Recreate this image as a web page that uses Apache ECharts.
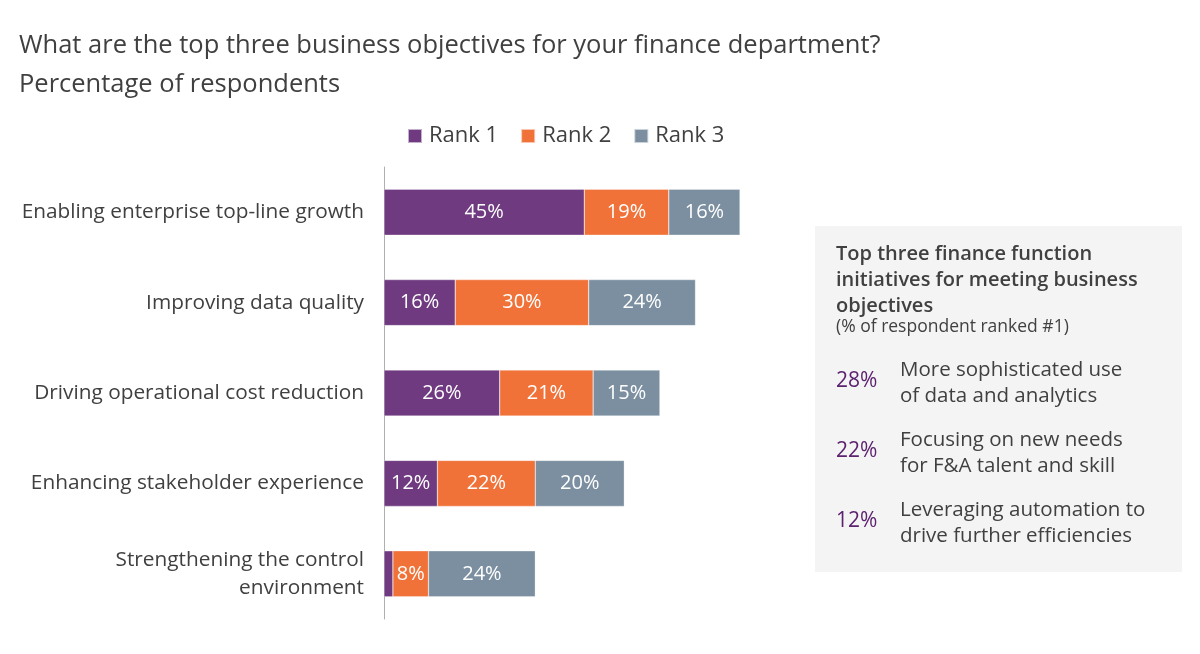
<!DOCTYPE html>
<html>
<head>
<meta charset="utf-8">
<style>
  html, body { margin: 0; padding: 0; background: #fff; }
  #chart { width: 1200px; height: 654px; }
</style>
<script src="https://cdn.jsdelivr.net/npm/echarts@6/dist/echarts.min.js"></script>
</head>
<body>
<div id="chart"></div>
<script>
// chart data
const categories = [
  'Enabling enterprise top-line growth',
  'Improving data quality',
  'Driving operational cost reduction',
  'Enhancing stakeholder experience',
  'Strengthening the control\nenvironment'
];
const rank1 = [45, 16, 26, 12, 2];
const rank2 = [19, 30, 21, 22, 8];
const rank3 = [16, 24, 15, 20, 24];

const initiativeValues = ['28%', '22%', '12%'];
const initiativeTexts = [
  'More sophisticated use\nof data and analytics',
  'Focusing on new needs\nfor F&A talent and skill',
  'Leveraging automation to\ndrive further efficiencies'
];

const FONT = '"Open Sans", sans-serif';
const TEXT = '#404040';

function barSeries(name, data, color) {
  return {
    name: name,
    type: 'bar',
    stack: 'rank',
    data: data,
    barWidth: 46,
    itemStyle: { color: color, borderColor: 'rgba(255,255,255,0.6)', borderWidth: 0.5 },
    label: {
      show: true,
      position: 'inside',
      color: '#fff',
      fontFamily: FONT,
      fontSize: 20,
      formatter: p => (p.value < 5 ? '' : p.value + '%')
    }
  };
}

// side panel built from the initiative arrays
const panel = [
  {
    type: 'rect',
    shape: { x: 815, y: 226, width: 367, height: 346 },
    style: { fill: '#F4F4F4' }
  },
  {
    type: 'text',
    left: 836, top: 241,
    style: {
      text: 'Top three finance function\ninitiatives for meeting business\nobjectives',
      fill: TEXT, font: '600 20px ' + FONT, lineHeight: 26
    }
  },
  {
    type: 'text',
    left: 836, top: 318,
    style: { text: '(% of respondent ranked #1)', fill: TEXT, font: '17.5px ' + FONT }
  }
];
initiativeValues.forEach((v, i) => {
  const y = 357 + i * 70;
  panel.push({
    type: 'text', left: 836, top: y + 14,
    style: { text: v, fill: '#5C2270', font: '21px ' + FONT }
  });
  panel.push({
    type: 'text', left: 900, top: y,
    style: { text: initiativeTexts[i], fill: TEXT, font: '20.5px ' + FONT, lineHeight: 26 }
  });
});

const chart = echarts.init(document.getElementById('chart'));
chart.setOption({
  animation: false,
  title: [
    {
      text: 'What are the top three business objectives for your finance department?',
      left: 19, top: 33, padding: 0,
      textStyle: { color: TEXT, fontFamily: FONT, fontSize: 25.5, fontWeight: 'normal' }
    },
    {
      text: 'Percentage of respondents',
      left: 19, top: 72, padding: 0,
      textStyle: { color: TEXT, fontFamily: FONT, fontSize: 25.5, fontWeight: 'normal' }
    }
  ],
  legend: {
    left: 402, top: 120,
    itemWidth: 14, itemHeight: 14, itemGap: 22,
    icon: 'rect',
    textStyle: { color: TEXT, fontFamily: FONT, fontSize: 22, padding: [0, 0, 0, 2] },
    data: ['Rank 1', 'Rank 2', 'Rank 3']
  },
  grid: { left: 384, top: 167, width: 445, height: 452, containLabel: false },
  xAxis: {
    type: 'value', min: 0, max: 100,
    show: false
  },
  yAxis: {
    type: 'category',
    data: categories,
    inverse: true,
    axisLine: { show: true, lineStyle: { color: '#B0B0B0', width: 1 } },
    axisTick: { show: false },
    axisLabel: {
      color: TEXT, fontFamily: FONT, fontSize: 20.8, margin: 20,
      lineHeight: 28, align: 'right'
    }
  },
  series: [
    barSeries('Rank 1', rank1, '#6F3A80'),
    barSeries('Rank 2', rank2, '#F07238'),
    barSeries('Rank 3', rank3, '#7B8FA0')
  ],
  graphic: panel
});
</script>
</body>
</html>
